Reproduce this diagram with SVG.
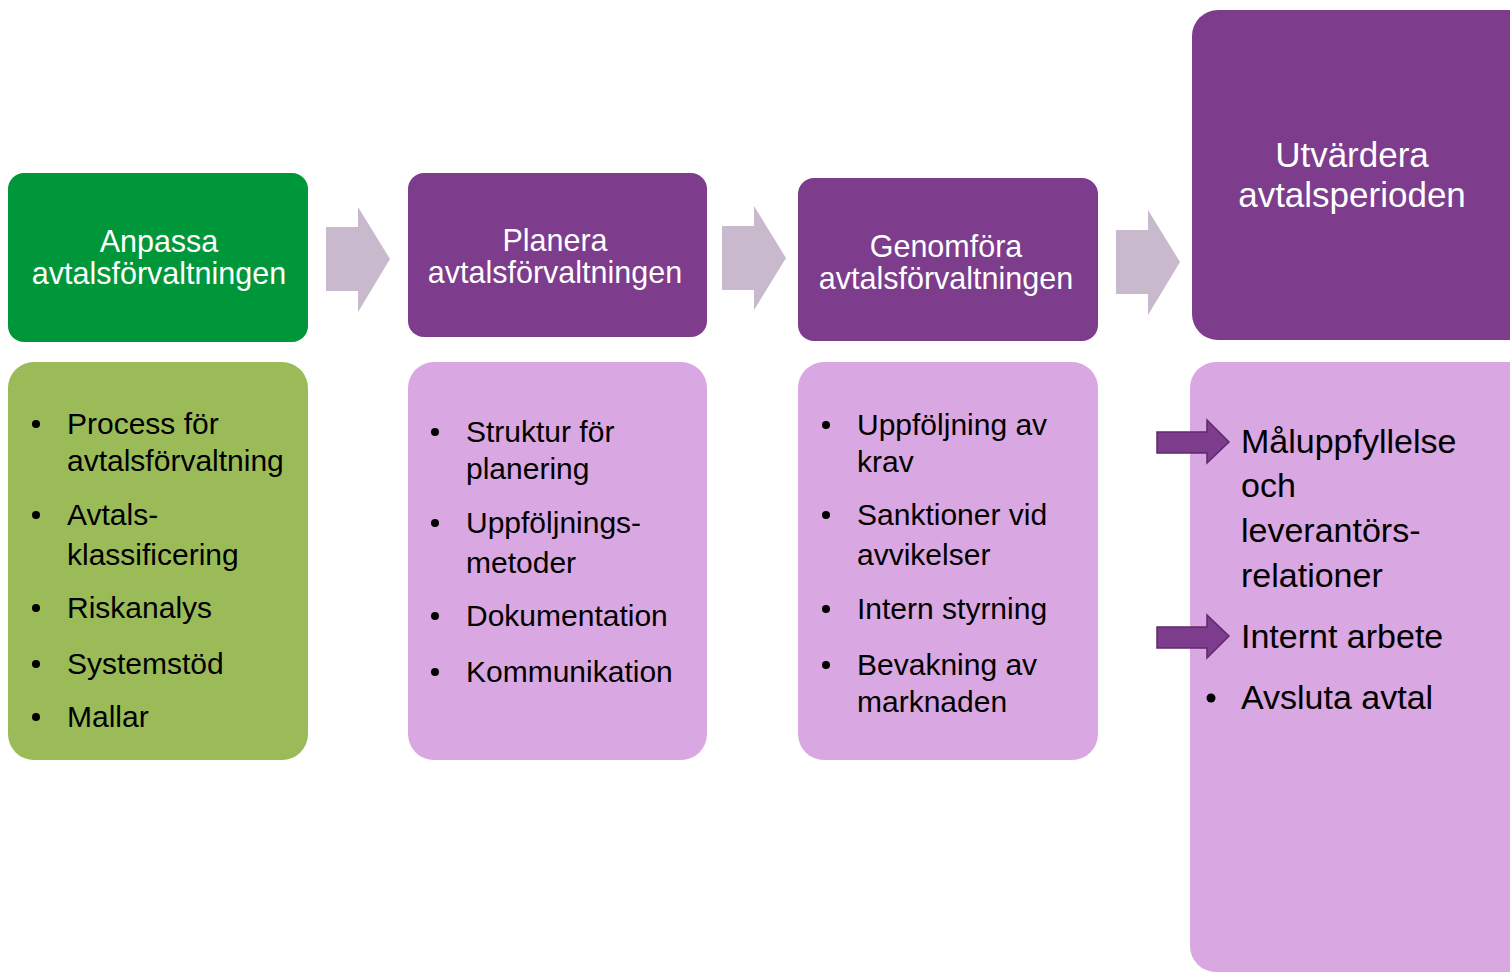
<svg xmlns="http://www.w3.org/2000/svg" width="1510" height="974" viewBox="0 0 1510 974">
<style>
.hd{fill:#7D3C8C}
.lt{fill:#D9A7E1}
.gr{fill:#C8B9CC}
.ht{font-family:"Liberation Sans",Arial,sans-serif;font-size:30.5px;fill:#fff;text-anchor:middle}
.bt{font-family:"Liberation Sans",Arial,sans-serif;font-size:30px;fill:#000}
.big{font-family:"Liberation Sans",Arial,sans-serif;font-size:34px;fill:#000}
.pa{fill:#7D3C8C;stroke:#5E2A6B;stroke-width:1.5}
</style>
<rect width="1510" height="974" fill="#fff"/>
<g id="connectors">
<polygon class="gr" points="326,227 358,227 358,207 390,259 358,312 358,291 326,291"/>
<polygon class="gr" points="722,226 754,226 754,206 786,258 754,310 754,290 722,290"/>
<polygon class="gr" points="1116,230 1148,230 1148,210 1180,262 1148,315 1148,294 1116,294"/>
</g>
<g id="anpassa">
<rect x="8" y="173" width="300" height="169" rx="16" fill="#00973A"/>
<text class="ht" x="159" y="252">Anpassa</text>
<text class="ht" x="159" y="284">avtalsförvaltningen</text>
</g>
<g id="planera">
<rect class="hd" x="408" y="173" width="299" height="164" rx="16"/>
<text class="ht" x="555" y="251">Planera</text>
<text class="ht" x="555" y="283">avtalsförvaltningen</text>
</g>
<g id="genomfora">
<rect class="hd" x="798" y="178" width="300" height="163" rx="16"/>
<text class="ht" x="946" y="257">Genomföra</text>
<text class="ht" x="946" y="289">avtalsförvaltningen</text>
</g>
<g id="utvardera">
<rect class="hd" x="1192" y="10" width="350" height="330" rx="26"/>
<text class="ht" x="1352" y="167" style="font-size:35px">Utvärdera</text>
<text class="ht" x="1352" y="207" style="font-size:35px">avtalsperioden</text>
</g>
<g id="anpassa-list">
<rect x="8" y="362" width="300" height="398" rx="26" fill="#9BBB59"/>
<circle cx="36" cy="424" r="4"/><circle cx="36" cy="515" r="4"/><circle cx="36" cy="608" r="4"/><circle cx="36" cy="664" r="4"/><circle cx="36" cy="717" r="4"/>
<text class="bt" x="67" y="434">Process för</text>
<text class="bt" x="67" y="471">avtalsförvaltning</text>
<text class="bt" x="67" y="525">Avtals-</text>
<text class="bt" x="67" y="565">klassificering</text>
<text class="bt" x="67" y="618">Riskanalys</text>
<text class="bt" x="67" y="674">Systemstöd</text>
<text class="bt" x="67" y="727">Mallar</text>
</g>
<g id="planera-list">
<rect class="lt" x="408" y="362" width="299" height="398" rx="26"/>
<circle cx="435" cy="432" r="4"/><circle cx="435" cy="523" r="4"/><circle cx="435" cy="616" r="4"/><circle cx="435" cy="672" r="4"/>
<text class="bt" x="466" y="442">Struktur för</text>
<text class="bt" x="466" y="479">planering</text>
<text class="bt" x="466" y="533">Uppföljnings-</text>
<text class="bt" x="466" y="573">metoder</text>
<text class="bt" x="466" y="626">Dokumentation</text>
<text class="bt" x="466" y="682">Kommunikation</text>
</g>
<g id="genomfora-list">
<rect class="lt" x="798" y="362" width="300" height="398" rx="26"/>
<circle cx="826" cy="425" r="4"/><circle cx="826" cy="515" r="4"/><circle cx="826" cy="609" r="4"/><circle cx="826" cy="665" r="4"/>
<text class="bt" x="857" y="435">Uppföljning av</text>
<text class="bt" x="857" y="472">krav</text>
<text class="bt" x="857" y="525">Sanktioner vid</text>
<text class="bt" x="857" y="565">avvikelser</text>
<text class="bt" x="857" y="619">Intern styrning</text>
<text class="bt" x="857" y="675">Bevakning av</text>
<text class="bt" x="857" y="712">marknaden</text>
</g>
<g id="utvardera-list">
<rect class="lt" x="1190" y="362" width="352" height="610" rx="26"/>
<polygon class="pa" points="1157,432 1207,432 1207,420 1229,442 1207,463 1207,453 1157,453"/>
<polygon class="pa" points="1157,627 1207,627 1207,615 1229,636 1207,658 1207,648 1157,648"/>
<circle cx="1211" cy="698" r="4.5"/>
<text class="big" x="1241" y="453">Måluppfyllelse</text>
<text class="big" x="1241" y="497">och</text>
<text class="big" x="1241" y="542">leverantörs-</text>
<text class="big" x="1241" y="587">relationer</text>
<text class="big" x="1241" y="648">Internt arbete</text>
<text class="big" x="1241" y="709">Avsluta avtal</text>
</g>
</svg>
